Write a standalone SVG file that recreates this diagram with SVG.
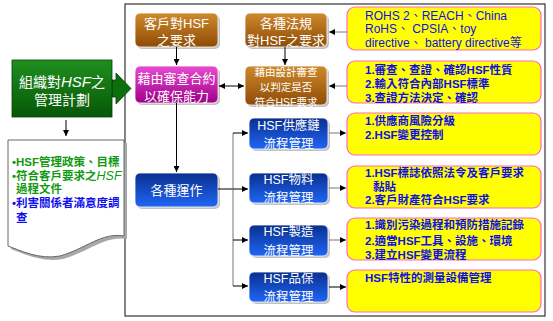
<svg xmlns="http://www.w3.org/2000/svg" width="553" height="321" viewBox="0 0 553 321">
<defs>
<linearGradient id="gBrown" x1="0" y1="0" x2="0" y2="1"><stop offset="0" stop-color="#cf8a2c"/><stop offset="1" stop-color="#8e4b05"/></linearGradient>
<linearGradient id="gMag" x1="0" y1="0" x2="0" y2="1"><stop offset="0" stop-color="#e84ad0"/><stop offset="1" stop-color="#a0008a"/></linearGradient>
<linearGradient id="gBlue" x1="0" y1="0" x2="0" y2="1"><stop offset="0" stop-color="#0a2f8f"/><stop offset="1" stop-color="#1f66f5"/></linearGradient>
<linearGradient id="gGreen" x1="0" y1="0" x2="0" y2="1"><stop offset="0" stop-color="#1f8f1f"/><stop offset="1" stop-color="#065806"/></linearGradient>
<marker id="ah" markerWidth="6" markerHeight="6" refX="6" refY="3" orient="auto" markerUnits="userSpaceOnUse"><path d="M0,0 L6,3 L0,6 z" fill="#000"/></marker>
<marker id="ahs" markerWidth="6" markerHeight="6" refX="0" refY="3" orient="auto" markerUnits="userSpaceOnUse"><path d="M6,0 L0,3 L6,6 z" fill="#000"/></marker>
</defs>
<style>
.sh{fill:#9a9a9a;opacity:0.6}
.bx{stroke:#ffffff;stroke-width:0.8}
.t{font-family:"Noto Sans CJK TC","Liberation Sans",sans-serif;fill:#fff;font-size:13px;text-anchor:middle}
.t14{font-size:14px}
.t12{font-size:12.5px}
.t10{font-size:10.5px}
.lat{font-family:"Liberation Sans",sans-serif}
.yb{fill:#ffff00;stroke:#ff66cc;stroke-width:1.2}
.yt{font-family:"Liberation Sans","Noto Sans CJK TC",sans-serif;fill:#1010e0;font-size:11.5px;font-weight:bold}
.yn{font-size:12px;font-weight:normal}
.c{stroke:#000;stroke-width:1;fill:none}
.cg{stroke:#777;stroke-width:1;fill:none}
</style>

<rect x="125" y="4" width="420" height="312" fill="none" stroke="#333" stroke-width="1.2"/>

<g id="plan">
<path d="M112,80 H116 V73 L131,88.5 L116,104 V97 H112 Z" fill="#0c6e0c" stroke="#064006" stroke-width="0.8"/>
<rect x="12" y="60" width="100" height="57" fill="url(#gGreen)" stroke="#064006" stroke-width="0.8"/>
<text class="t t14" x="62" y="87">組織對<tspan class="lat" style="font-style:italic;font-size:15px">HSF</tspan>之</text>
<text class="t t14" x="62" y="105">管理計劃</text>
</g>

<g id="doc">
<path d="M11,143 H127 V239 C105,235 88,252 63,259 C42,263 22,253 11,249 Z" fill="#a8a8a8"/>
<path d="M8,140 H124 V236 C102,232 85,249 60,256 C39,260 19,250 8,246 Z" fill="#fff" stroke="#666" stroke-width="1"/>
<g font-family="Liberation Sans,'Noto Sans CJK TC',sans-serif" font-size="11.5" font-weight="bold">
<text x="12" y="166" fill="#119911">•HSF管理政策、目標</text>
<text x="12" y="180" fill="#119911">•符合客戶要求之<tspan font-style="italic" font-weight="normal" font-size="12.5">HSF</tspan></text>
<text x="16" y="193" fill="#119911">過程文件</text>
<text x="12" y="207" fill="#1010ee">•利害關係者滿意度調</text>
<text x="16" y="222" fill="#1010ee">查</text>
</g>
</g>

<g id="customer">
<rect class="sh" x="137" y="15" width="83" height="34" rx="5"/>
<rect class="bx" x="135" y="13" width="83" height="34" rx="5" fill="url(#gBrown)"/>
<text class="t" x="176.5" y="28">客戶對<tspan class="lat">HSF</tspan></text>
<text class="t" x="176.5" y="45">之要求</text>
</g>

<g id="regs">
<rect class="sh" x="247" y="15" width="82" height="34" rx="5"/>
<rect class="bx" x="245" y="13" width="82" height="34" rx="5" fill="url(#gBrown)"/>
<text class="t" x="286" y="28">各種法規</text>
<text class="t" x="286" y="45">對<tspan class="lat">HSF</tspan>之要求</text>
</g>

<g id="contract">
<rect class="sh" x="137" y="68" width="83" height="37" rx="5"/>
<rect class="bx" x="135" y="66" width="83" height="37" rx="5" fill="url(#gMag)"/>
<text class="t" x="176.5" y="83">藉由審查合約</text>
<text class="t" x="176.5" y="101">以確保能力</text>
</g>

<g id="design">
<rect class="sh" x="247" y="68" width="82" height="39" rx="5"/>
<rect class="bx" x="245" y="66" width="82" height="39" rx="5" fill="url(#gBrown)"/>
<text class="t t10" x="286" y="76">藉由設計審查</text>
<text class="t t10" x="286" y="91">以判定是否</text>
<text class="t t10" x="286" y="106">符合<tspan class="lat">HSF</tspan>要求</text>
</g>

<g id="ops">
<rect class="sh" x="137" y="175" width="83" height="34" rx="5"/>
<rect class="bx" x="135" y="173" width="83" height="34" rx="5" fill="url(#gBlue)"/>
<text class="t" x="176.5" y="195">各種運作</text>
</g>

<g id="supply">
<rect class="sh" x="251" y="120" width="79" height="31" rx="5"/>
<rect class="bx" x="249" y="118" width="79" height="31" rx="5" fill="url(#gBlue)"/>
<text class="t t12" x="288.5" y="129.5"><tspan class="lat">HSF</tspan>供應鏈</text>
<text class="t t12" x="288.5" y="148">流程管理</text>
</g>

<g id="material">
<rect class="sh" x="251" y="175" width="79" height="30" rx="5"/>
<rect class="bx" x="249" y="173" width="79" height="30" rx="5" fill="url(#gBlue)"/>
<text class="t t12" x="288.5" y="183.5"><tspan class="lat">HSF</tspan>物料</text>
<text class="t t12" x="288.5" y="202">流程管理</text>
</g>

<g id="manufacture">
<rect class="sh" x="251" y="227" width="79" height="31" rx="5"/>
<rect class="bx" x="249" y="225" width="79" height="31" rx="5" fill="url(#gBlue)"/>
<text class="t t12" x="288.5" y="236"><tspan class="lat">HSF</tspan>製造</text>
<text class="t t12" x="288.5" y="254.5">流程管理</text>
</g>

<g id="qa">
<rect class="sh" x="251" y="274" width="79" height="30" rx="5"/>
<rect class="bx" x="249" y="272" width="79" height="30" rx="5" fill="url(#gBlue)"/>
<text class="t t12" x="288.5" y="282.5"><tspan class="lat">HSF</tspan>品保</text>
<text class="t t12" x="288.5" y="301">流程管理</text>
</g>

<g id="y1">
<rect class="yb" x="347" y="7" width="194" height="43" rx="8"/>
<text class="yt yn" x="365" y="20">ROHS 2、REACH、China</text>
<text class="yt yn" x="365" y="33">RoHS、 CPSIA、toy</text>
<text class="yt yn" x="365" y="47">directive、 battery directive等</text>
</g>
<g id="y2">
<rect class="yb" x="347" y="61" width="194" height="42" rx="8"/>
<text class="yt" x="365" y="74">1.審查、查證、確認HSF性質</text>
<text class="yt" x="365" y="88">2.輸入符合內部HSF標準</text>
<text class="yt" x="365" y="102">3.查證方法決定、確認</text>
</g>
<g id="y3">
<rect class="yb" x="347" y="113" width="194" height="42" rx="8"/>
<text class="yt" x="365" y="125">1.供應商風險分級</text>
<text class="yt" x="365" y="139">2.HSF變更控制</text>
</g>
<g id="y4">
<rect class="yb" x="347" y="166" width="194" height="42" rx="8"/>
<text class="yt" x="365" y="177">1.HSF標誌依照法令及客戶要求</text>
<text class="yt" x="373" y="191">黏貼</text>
<text class="yt" x="365" y="204">2.客戶財產符合HSF要求</text>
</g>
<g id="y5">
<rect class="yb" x="347" y="218" width="194" height="42" rx="8"/>
<text class="yt" x="365" y="229">1.識別污染過程和預防措施記錄</text>
<text class="yt" x="365" y="245">2.適當HSF工具、設施、環境</text>
<text class="yt" x="365" y="259">3.建立HSF變更流程</text>
</g>
<g id="y6">
<rect class="yb" x="347" y="270" width="194" height="42" rx="8"/>
<text class="yt" x="365" y="282">HSF特性的測量設備管理</text>
</g>

<g id="connectors">
<line class="c" x1="66" y1="120" x2="66" y2="136" marker-end="url(#ah)"/>
<line class="c" x1="176.5" y1="47" x2="176.5" y2="65" marker-end="url(#ah)"/>
<line class="c" x1="285" y1="47" x2="285" y2="65" marker-end="url(#ah)"/>
<line class="c" x1="219" y1="86" x2="244" y2="86" marker-start="url(#ahs)" marker-end="url(#ah)"/>
<line class="cg" x1="347" y1="32" x2="329" y2="32" marker-end="url(#ah)"/>
<line class="cg" x1="347" y1="86" x2="329" y2="86" marker-end="url(#ah)"/>
<line class="c" x1="176.5" y1="103" x2="176.5" y2="172" marker-end="url(#ah)"/>
<polyline class="c" points="218,189 233,189"/>
<line class="cg" x1="233" y1="133" x2="233" y2="286"/>
<line class="c" x1="233" y1="133" x2="248" y2="133" marker-end="url(#ah)"/>
<line class="c" x1="233" y1="189" x2="248" y2="189" marker-end="url(#ah)"/>
<line class="c" x1="233" y1="240" x2="248" y2="240" marker-end="url(#ah)"/>
<line class="c" x1="233" y1="286" x2="248" y2="286" marker-end="url(#ah)"/>
<line class="cg" x1="329" y1="133" x2="346" y2="133" marker-end="url(#ah)"/>
<line class="cg" x1="329" y1="188" x2="346" y2="188" marker-end="url(#ah)"/>
<line class="cg" x1="329" y1="240" x2="346" y2="240" marker-end="url(#ah)"/>
<line class="c" x1="329" y1="287" x2="346" y2="287" marker-end="url(#ah)"/>
</g>
</svg>
